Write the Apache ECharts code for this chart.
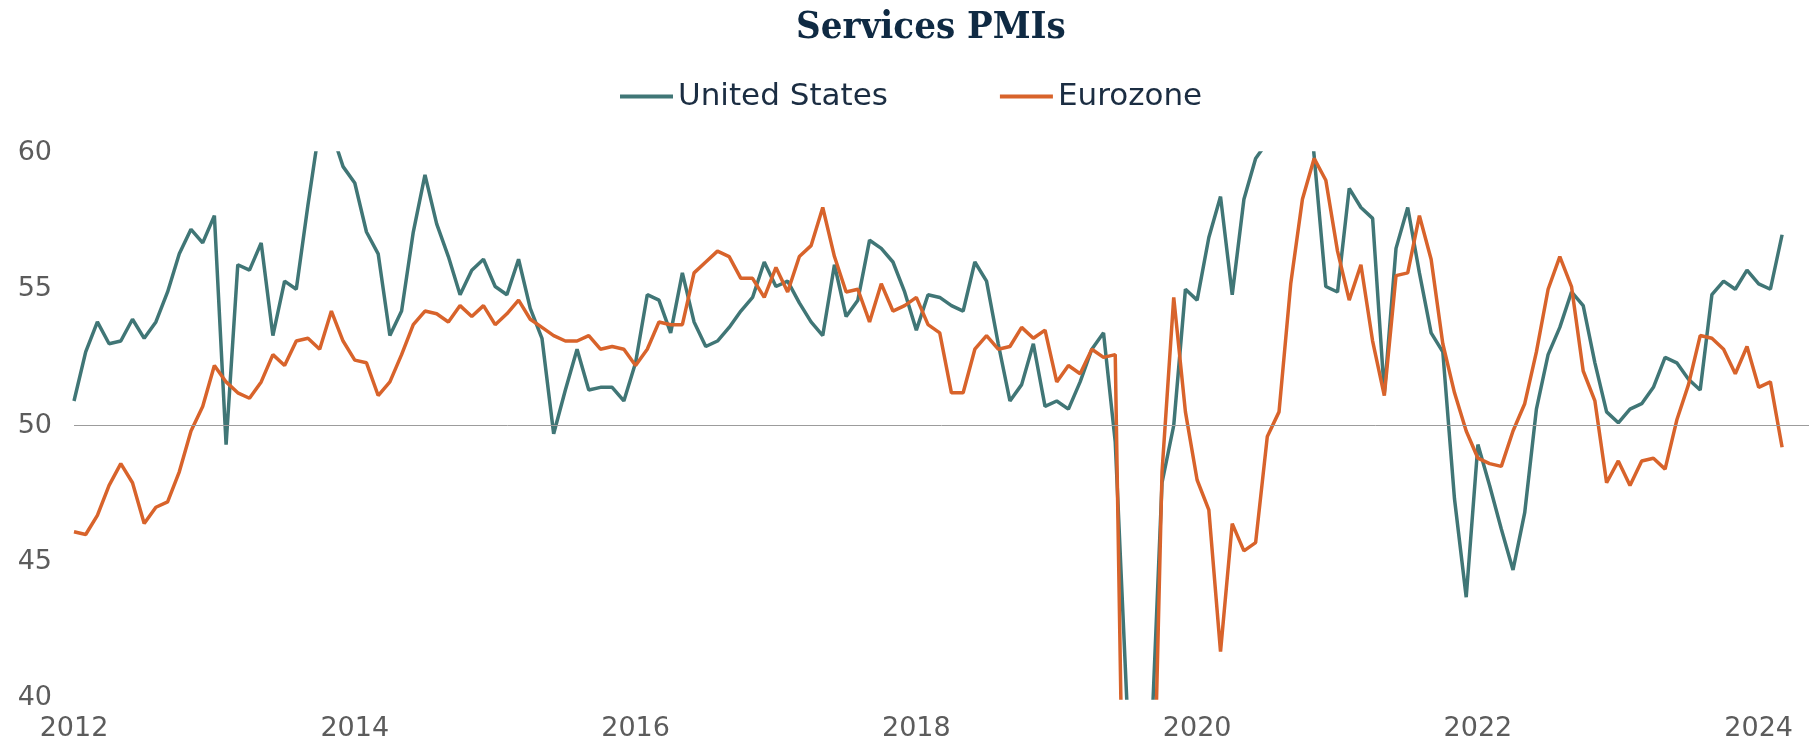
<!DOCTYPE html>
<html>
<head>
<meta charset="utf-8">
<title>Services PMIs</title>
<script src="https://cdn.jsdelivr.net/npm/echarts@6.0.0/dist/echarts.min.js"></script>
<style>
  html, body { margin: 0; padding: 0; background: #fff; }
  #main { width: 1809px; height: 746px; }
</style>
</head>
<body>
<div id="main"></div>
<script>
// monthly readings, Sep 2012 .. Nov 2024 (axis labels every 24 months, as in the source chart)
var months = [];
for (var y = 2012, m = 9; months.length < 147; m++) {
  if (m > 12) { m = 1; y++; }
  months.push(y + '-' + (m < 10 ? '0' + m : m));
}

var yearTicks = ['2012', '2014', '2016', '2018', '2020', '2022', '2024'];

var unitedStates = [
  50.9, 52.7, 53.8, 53.0, 53.1, 53.9, 53.2, 53.8, 54.9, 56.3, 57.2, 56.7,
  57.7, 49.3, 55.9, 55.7, 56.7, 53.3, 55.3, 55.0, 58.1, 61.0, 60.8, 59.5,
  58.9, 57.1, 56.3, 53.3, 54.2, 57.1, 59.2, 57.4, 56.2, 54.8, 55.7, 56.1,
  55.1, 54.8, 56.1, 54.3, 53.2, 49.7, 51.3, 52.8, 51.3, 51.4, 51.4, 50.9,
  52.3, 54.8, 54.6, 53.4, 55.6, 53.8, 52.9, 53.1, 53.6, 54.2, 54.7, 56.0,
  55.1, 55.3, 54.5, 53.8, 53.3, 55.9, 54.0, 54.6, 56.8, 56.5, 56.0, 54.9,
  53.5, 54.8, 54.7, 54.4, 54.2, 56.0, 55.3, 53.0, 50.9, 51.5, 53.0, 50.7,
  50.9, 50.6, 51.6, 52.8, 53.4, 49.4, 39.8, 26.7, 37.5, 47.9, 50.0, 55.0,
  54.6, 56.9, 58.4, 54.8, 58.3, 59.8, 60.4, 64.7, 70.4, 64.6, 59.9, 55.1,
  54.9, 58.7, 58.0, 57.6, 51.2, 56.5, 58.0, 55.6, 53.4, 52.7, 47.3, 43.7,
  49.3, 47.8, 46.2, 44.7, 46.8, 50.6, 52.6, 53.6, 54.9, 54.4, 52.3, 50.5,
  50.1, 50.6, 50.8, 51.4, 52.5, 52.3, 51.7, 51.3, 54.8, 55.3, 55.0, 55.7,
  55.2, 55.0, 57.0
];

var eurozone = [
  46.1, 46.0, 46.7, 47.8, 48.6, 47.9, 46.4, 47.0, 47.2, 48.3, 49.8, 50.7,
  52.2, 51.6, 51.2, 51.0, 51.6, 52.6, 52.2, 53.1, 53.2, 52.8, 54.2, 53.1,
  52.4, 52.3, 51.1, 51.6, 52.6, 53.7, 54.2, 54.1, 53.8, 54.4, 54.0, 54.4,
  53.7, 54.1, 54.6, 53.9, 53.6, 53.3, 53.1, 53.1, 53.3, 52.8, 52.9, 52.8,
  52.2, 52.8, 53.8, 53.7, 53.7, 55.6, 56.0, 56.4, 56.2, 55.4, 55.4, 54.7,
  55.8, 54.9, 56.2, 56.6, 58.0, 56.2, 54.9, 55.0, 53.8, 55.2, 54.2, 54.4,
  54.7, 53.7, 53.4, 51.2, 51.2, 52.8, 53.3, 52.8, 52.9, 53.6, 53.2, 53.5,
  51.6, 52.2, 51.9, 52.8, 52.5, 52.6, 26.4, 12.0, 30.5, 48.3, 54.7, 50.5,
  48.0, 46.9, 41.7, 46.4, 45.4, 45.7, 49.6, 50.5, 55.2, 58.3, 59.8, 59.0,
  56.4, 54.6, 55.9, 53.1, 51.1, 55.5, 55.6, 57.7, 56.1, 53.0, 51.2, 49.8,
  48.8, 48.6, 48.5, 49.8, 50.8, 52.7, 55.0, 56.2, 55.1, 52.0, 50.9, 47.9,
  48.7, 47.8, 48.7, 48.8, 48.4, 50.2, 51.5, 53.3, 53.2, 52.8, 51.9, 52.9,
  51.4, 51.6, 49.2
];

function toPoints(vals) {
  return vals.map(function (v, i) { return [i, v, months[i]]; });
}

var chart = echarts.init(document.getElementById('main'));

var axisFont = { fontFamily: 'DejaVu Sans', fontSize: 27, color: '#5c5c5c' };

var option = {
  animation: false,
  title: {
    text: 'Services PMIs',
    left: 796,
    top: 9,
    padding: 0,
    textStyle: {
      fontFamily: "'DejaVu Serif Condensed', 'DejaVu Serif'",
      fontWeight: 'bold',
      fontSize: 38,
      color: '#0f2a43'
    }
  },
  legend: {
    left: 620,
    top: 81,
    padding: 0,
    icon: 'rect',
    itemWidth: 53,
    itemHeight: 4,
    itemGap: 112,
    textStyle: { fontFamily: 'DejaVu Sans', fontSize: 31, color: '#1b2d42' },
    data: ['United States', 'Eurozone']
  },
  grid: { left: 74, right: 0, top: 153, bottom: 48 },
  xAxis: {
    type: 'value',
    min: 0,
    max: 148.3,
    interval: 24,
    splitLine: { show: false },
    axisLine: { show: false },
    axisTick: { show: false },
    axisLabel: Object.assign({
      margin: 17,
      showMaxLabel: false,
      alignMinLabel: 'center',
      formatter: function (v) { return yearTicks[v / 24] || ''; }
    }, axisFont)
  },
  yAxis: {
    type: 'value',
    min: 40,
    max: 60,
    interval: 5,
    splitLine: { show: false },
    axisLine: { show: false },
    axisTick: { show: false },
    axisLabel: Object.assign({ margin: 22 }, axisFont)
  },
  series: [
    {
      name: 'United States',
      type: 'line',
      data: toPoints(unitedStates),
      showSymbol: false,
      color: '#407676',
      lineStyle: { width: 3.5 },
      // the 50 line across the plot
      markLine: {
        silent: true,
        symbol: 'none',
        label: { show: false },
        lineStyle: { color: '#9c9c9c', width: 1, type: 'solid' },
        data: [{ yAxis: 50 }]
      }
    },
    {
      name: 'Eurozone',
      type: 'line',
      data: toPoints(eurozone),
      showSymbol: false,
      color: '#d8632b',
      lineStyle: { width: 3.5 }
    }
  ]
};

chart.setOption(option);
</script>
</body>
</html>
